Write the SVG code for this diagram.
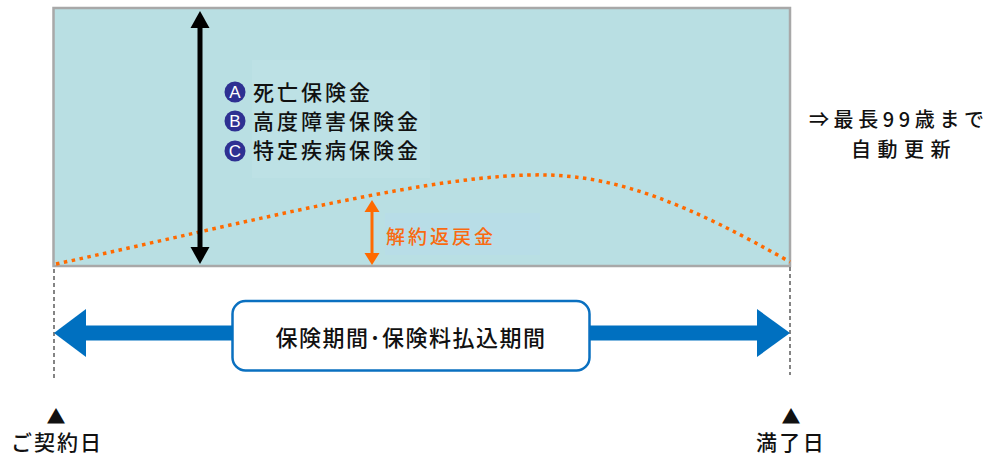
<svg xmlns="http://www.w3.org/2000/svg" width="992" height="457" viewBox="0 0 992 457">
<style>
.jp{font-family:"Noto Sans CJK JP","Noto Sans",sans-serif;fill:#111;font-weight:500}
.ab{font-family:"Liberation Sans",Arial,sans-serif;fill:#fff;font-size:17px;text-anchor:middle}
.dash{stroke:#666;stroke-width:1.6;stroke-dasharray:4 3;fill:none}
</style>
<rect width="992" height="457" fill="#fff"/>
<g id="period-area">
<rect x="53.5" y="8" width="736.5" height="258" fill="#b9dfe3" stroke="#a8a8a8" stroke-width="2.5"/>
</g>
<g id="benefits">
<rect x="252" y="60" width="178" height="118" fill="#bde1e5"/>
<circle cx="235" cy="92" r="10.5" fill="#2e3092"/>
<text class="ab" x="235" y="98">A</text>
<circle cx="235" cy="121" r="10.5" fill="#2e3092"/>
<text class="ab" x="235" y="127">B</text>
<circle cx="235" cy="151" r="10.5" fill="#2e3092"/>
<text class="ab" x="235" y="157">C</text>
<text class="jp" x="253" y="100" font-size="21" letter-spacing="3">死亡保険金</text>
<text class="jp" x="253" y="129" font-size="21" letter-spacing="3">高度障害保険金</text>
<text class="jp" x="253" y="158" font-size="21" letter-spacing="3">特定疾病保険金</text>
</g>
<g id="surrender">
<rect x="385" y="213" width="155" height="42" fill="#b8dde7"/>
<text class="jp" x="386" y="244" font-size="19" letter-spacing="3" style="fill:#f96a10">解約返戻金</text>
</g>
<g id="box">
<rect x="232.5" y="301" width="357" height="69.5" rx="13" fill="#fff" stroke="#0a70c0" stroke-width="2.5"/>
<text class="jp" x="411" y="346" font-size="22" letter-spacing="1.5" text-anchor="middle">保険期間･保険料払込期間</text>
</g>
<g id="renewal">
<text class="jp" x="809" y="127" font-size="20" letter-spacing="4.6">⇒最長99歳まで</text>
<text class="jp" x="851" y="157" font-size="20" letter-spacing="6.5">自動更新</text>
</g>
<g id="start">
<text class="jp" text-anchor="middle"><tspan x="56" y="424" font-size="19">▲</tspan><tspan x="57" y="450" font-size="21" letter-spacing="2">ご契約日</tspan></text>
</g>
<g id="end">
<text class="jp" text-anchor="middle"><tspan x="791" y="424" font-size="19">▲</tspan><tspan x="791" y="450" font-size="21" letter-spacing="2.3">満了日</tspan></text>
</g>
<g id="connectors">
<path d="M56,264 C250,222 440,172 548,175 C620,177 690,205 790,262" fill="none" stroke="#ff6a00" stroke-width="3.5" stroke-dasharray="3.5 4.5"/>
<line x1="200" y1="27" x2="200" y2="248" stroke="#000" stroke-width="5"/>
<polygon points="200,11 190.5,28 209.5,28" fill="#000"/>
<polygon points="200,264 190.5,247 209.5,247" fill="#000"/>
<line x1="372" y1="211" x2="372" y2="254" stroke="#ff6a00" stroke-width="3"/>
<polygon points="372,200 364.5,212 379.5,212" fill="#ff6a00"/>
<polygon points="372,265 364.5,253 379.5,253" fill="#ff6a00"/>
<line class="dash" x1="54" y1="269" x2="54" y2="380"/>
<line class="dash" x1="790" y1="267" x2="790" y2="375"/>
<rect x="85" y="325.5" width="148" height="15" fill="#0070c0"/>
<rect x="590" y="325.5" width="168" height="15" fill="#0070c0"/>
<polygon points="54,333 86,309 86,357" fill="#0070c0"/>
<polygon points="790,333 757,309 757,357" fill="#0070c0"/>
</g>
</svg>
